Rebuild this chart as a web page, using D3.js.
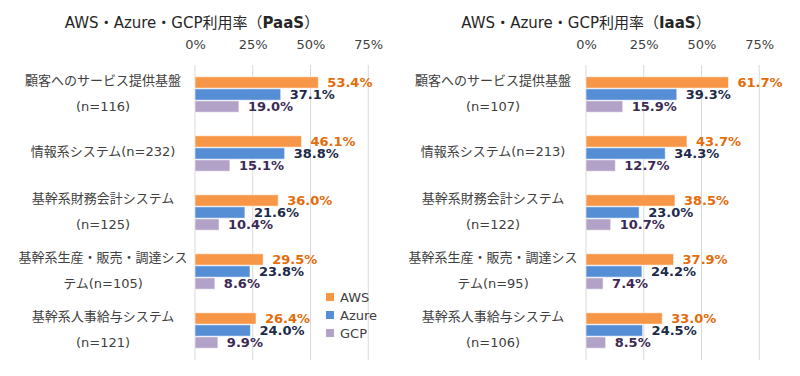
<!DOCTYPE html>
<html>
<head>
<meta charset="utf-8">
<script src="https://cdn.jsdelivr.net/npm/d3@7"></script>
<style>
  body { margin: 0; background: #fff; }
  text { font-family: "DejaVu Sans", "Noto Sans CJK JP", sans-serif; }
</style>
</head>
<body>
<div id="chart"></div>
<script>
// 系列とデータ
const series = ["AWS", "Azure", "GCP"];
const ticks = [0, 25, 50, 75];

const paasCategories = [
    ["顧客へのサービス提供基盤", "(n=116)"],
    ["情報系システム(n=232)"],
    ["基幹系財務会計システム", "(n=125)"],
    ["基幹系生産・販売・調達シス", "テム(n=105)"],
    ["基幹系人事給与システム", "(n=121)"]
];
const paasAWS = [53.4, 46.1, 36.0, 29.5, 26.4];
const paasAzure = [37.1, 38.8, 21.6, 23.8, 24.0];
const paasGCP = [19.0, 15.1, 10.4, 8.6, 9.9];

const iaasCategories = [
    ["顧客へのサービス提供基盤", "(n=107)"],
    ["情報系システム(n=213)"],
    ["基幹系財務会計システム", "(n=122)"],
    ["基幹系生産・販売・調達シス", "テム(n=95)"],
    ["基幹系人事給与システム", "(n=106)"]
];
const iaasAWS = [61.7, 43.7, 38.5, 37.9, 33.0];
const iaasAzure = [39.3, 34.3, 23.0, 24.2, 24.5];
const iaasGCP = [15.9, 12.7, 10.7, 7.4, 8.5];

const barColor = { AWS: "#F79646", Azure: "#558ED5", GCP: "#B3A2C7" };
const labelColor = { AWS: "#E46C0A", Azure: "#1c2b4a", GCP: "#3b2a55" };

const svg = d3.select("#chart").append("svg")
    .attr("width", 800)
    .attr("height", 376);

function drawPanel(opt) {
    const rows = opt.categories.map((c, i) => ({
        idx: i,
        lines: c,
        values: { AWS: opt.aws[i], Azure: opt.azure[i], GCP: opt.gcp[i] }
    }));

    const x = d3.scaleLinear().domain([0, 100]).range([opt.x0, opt.x0 + 231]);
    const y = d3.scaleBand().domain(rows.map(d => d.idx)).range([65, 360])
        .paddingInner(0.4).paddingOuter(0.2);
    const ys = d3.scaleBand().domain(series).range([0, y.bandwidth()]).paddingInner(0.06);

    const g = svg.append("g");

    // タイトル
    g.append("text")
        .attr("x", opt.titleX)
        .attr("y", 28)
        .attr("text-anchor", "middle")
        .style("font-size", "15px")
        .style("fill", "#262626")
        .call(t => {
            t.append("tspan").text("AWS・Azure・GCP利用率（");
            t.append("tspan").style("font-weight", "bold").text(opt.kind);
            t.append("tspan").text("）");
        });

    // グリッド線
    g.selectAll(".grid")
        .data(ticks)
        .enter()
        .append("line")
        .attr("x1", d => x(d)).attr("x2", d => x(d))
        .attr("y1", 65).attr("y2", 360)
        .attr("stroke", "#d9d9d9")
        .attr("stroke-width", 1);

    // 上の目盛り
    const axis = g.append("g")
        .attr("transform", "translate(0,45)")
        .call(d3.axisTop(x).tickValues(ticks).tickFormat(d => d + "%").tickSize(0));
    axis.select(".domain").remove();
    axis.selectAll("text")
        .style("font-size", "13px")
        .style("font-family", "DejaVu Sans")
        .style("fill", "#404040")
        .attr("dy", "0.5em");

    // カテゴリラベル
    const cat = g.selectAll(".cat")
        .data(rows)
        .enter()
        .append("text")
        .attr("text-anchor", "middle")
        .style("font-size", "13px")
        .style("fill", "#404040");
    cat.each(function (d) {
        const c = y(d.idx) + y.bandwidth() / 2;
        const offs = d.lines.length === 2 ? [-14, 12] : [-2];
        d.lines.forEach((l, k) => {
            d3.select(this).append("tspan")
                .attr("x", opt.labelX)
                .attr("y", c + offs[k])
                .attr("dominant-baseline", "central")
                .text(l);
        });
    });

    // 棒
    const grp = g.selectAll(".grp")
        .data(rows)
        .enter()
        .append("g")
        .attr("transform", d => `translate(0,${y(d.idx)})`);

    grp.selectAll("rect")
        .data(d => series.map(s => ({ s: s, v: d.values[s] })))
        .enter()
        .append("rect")
        .attr("x", x(0))
        .attr("y", d => ys(d.s))
        .attr("width", d => x(d.v) - x(0))
        .attr("height", ys.bandwidth())
        .attr("fill", d => barColor[d.s])
        .attr("stroke", "#ffffff")
        .attr("stroke-opacity", 0.55)
        .attr("stroke-width", 1);

    // 数値ラベル
    grp.selectAll(".val")
        .data(d => series.map(s => ({ s: s, v: d.values[s] })))
        .enter()
        .append("text")
        .attr("x", d => x(d.v) + 9)
        .attr("y", d => ys(d.s) + ys.bandwidth() / 2)
        .attr("dominant-baseline", "central")
        .style("font-family", "DejaVu Sans")
        .style("font-weight", "bold")
        .style("font-size", "13px")
        .style("fill", d => labelColor[d.s])
        .text(d => d.v.toFixed(1) + "%");
}

drawPanel({ kind: "PaaS", categories: paasCategories, aws: paasAWS, azure: paasAzure, gcp: paasGCP,
    x0: 195, titleX: 192, labelX: 103 });
drawPanel({ kind: "IaaS", categories: iaasCategories, aws: iaasAWS, azure: iaasAzure, gcp: iaasGCP,
    x0: 586, titleX: 586, labelX: 493 });

// 凡例
const legend = svg.append("g").attr("transform", "translate(326,297)");
series.forEach((s, i) => {
    legend.append("rect")
        .attr("x", 0).attr("y", i * 18 - 4)
        .attr("width", 8).attr("height", 8)
        .attr("fill", barColor[s]);
    legend.append("text")
        .attr("x", 14).attr("y", i * 18)
        .attr("dominant-baseline", "central")
        .style("font-size", "13px")
        .style("fill", "#404040")
        .text(s);
});
</script>
</body>
</html>
